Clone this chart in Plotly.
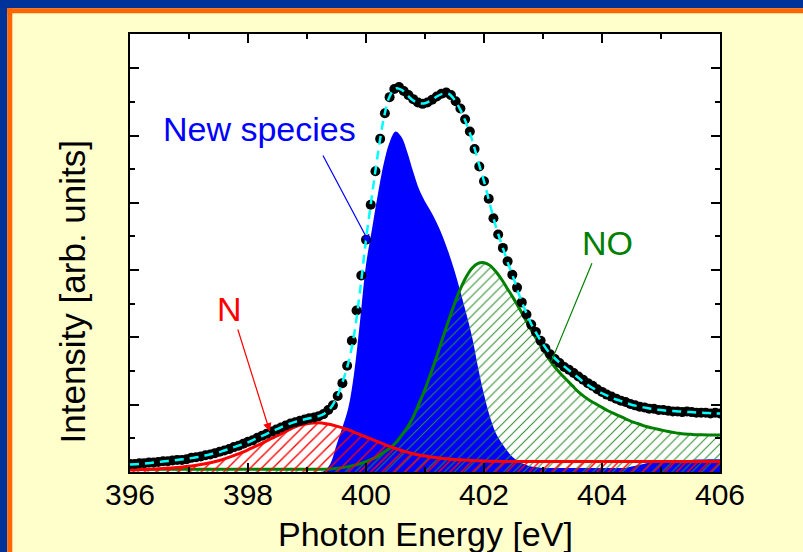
import numpy as np
import plotly.graph_objects as go

# ---------------- data ----------------
# measured spectrum (black dots), 396-406 eV
data_energy = np.round(np.linspace(396.0, 406.0, 126), 3)
data_intensity = [
    0.12, 0.12, 0.13, 0.13, 0.14, 0.14, 0.15, 0.16, 0.16, 0.17,
    0.18, 0.18, 0.19, 0.21, 0.22, 0.23, 0.25, 0.26, 0.28, 0.30,
    0.32, 0.34, 0.37, 0.39, 0.42, 0.45, 0.47, 0.51, 0.54, 0.57,
    0.60, 0.63, 0.66, 0.69, 0.72, 0.74, 0.76, 0.78, 0.80, 0.81,
    0.83, 0.86, 0.92, 0.99, 1.13, 1.32, 1.58, 1.95, 2.40, 2.92,
    3.45, 3.97, 4.47, 4.95, 5.33, 5.57, 5.69, 5.72, 5.66, 5.60,
    5.54, 5.49, 5.47, 5.49, 5.53, 5.58, 5.62, 5.64, 5.60, 5.51,
    5.40, 5.24, 5.06, 4.80, 4.54, 4.32, 4.06, 3.77, 3.53, 3.33,
    3.13, 2.93, 2.74, 2.52, 2.34, 2.19, 2.08, 1.95, 1.84, 1.75,
    1.68, 1.62, 1.56, 1.52, 1.47, 1.42, 1.37, 1.32, 1.28, 1.23,
    1.19, 1.15, 1.12, 1.09, 1.06, 1.04, 1.01, 0.99, 0.97, 0.96,
    0.94, 0.94, 0.92, 0.92, 0.91, 0.90, 0.90, 0.89, 0.90, 0.89,
    0.88, 0.88, 0.88, 0.87, 0.88, 0.87,
]

# fit components on a 0.1 eV grid
comp_energy = np.round(np.linspace(396.0, 406.0, 101), 2)
n_component = [
    0.030, 0.033, 0.036, 0.040, 0.044, 0.049, 0.055, 0.061, 0.068, 0.076,
    0.085, 0.097, 0.111, 0.127, 0.145, 0.168, 0.195, 0.225, 0.258, 0.293,
    0.330, 0.370, 0.410, 0.455, 0.500, 0.540, 0.585, 0.630, 0.670, 0.700,
    0.718, 0.728, 0.730, 0.722, 0.705, 0.682, 0.655, 0.625, 0.590, 0.555,
    0.520, 0.485, 0.450, 0.415, 0.380, 0.350, 0.320, 0.295, 0.272, 0.253,
    0.237, 0.223, 0.212, 0.202, 0.194, 0.187, 0.181, 0.176, 0.171, 0.167,
    0.164, 0.161, 0.159, 0.157, 0.156, 0.155, 0.155, 0.155, 0.155, 0.155,
    0.155, 0.155, 0.155, 0.155, 0.155, 0.155, 0.155, 0.155, 0.155, 0.155,
    0.155, 0.155, 0.155, 0.155, 0.155, 0.155, 0.155, 0.155, 0.155, 0.155,
    0.155, 0.155, 0.155, 0.155, 0.155, 0.155, 0.155, 0.155, 0.155, 0.155,
    0.155,
]
no_component = [
    0.040, 0.040, 0.040, 0.040, 0.040, 0.040, 0.040, 0.040, 0.040, 0.040,
    0.040, 0.040, 0.040, 0.040, 0.040, 0.040, 0.040, 0.040, 0.040, 0.040,
    0.040, 0.040, 0.040, 0.040, 0.040, 0.040, 0.040, 0.040, 0.040, 0.040,
    0.040, 0.040, 0.040, 0.042, 0.046, 0.055, 0.065, 0.080, 0.100, 0.125,
    0.155, 0.190, 0.235, 0.290, 0.350, 0.430, 0.540, 0.660, 0.820, 1.020,
    1.230, 1.470, 1.720, 1.990, 2.250, 2.500, 2.720, 2.900, 3.030, 3.100,
    3.110, 3.070, 2.980, 2.860, 2.720, 2.580, 2.430, 2.270, 2.110, 1.960,
    1.820, 1.680, 1.560, 1.460, 1.370, 1.280, 1.190, 1.120, 1.060, 1.010,
    0.960, 0.910, 0.870, 0.830, 0.790, 0.750, 0.720, 0.690, 0.665, 0.645,
    0.625, 0.605, 0.590, 0.575, 0.565, 0.560, 0.555, 0.552, 0.550, 0.550,
    0.550,
]
new_species = [
    0.00, 0.00, 0.00, 0.00, 0.00, 0.00, 0.00, 0.00, 0.00, 0.00,
    0.00, 0.00, 0.00, 0.00, 0.00, 0.00, 0.00, 0.00, 0.00, 0.00,
    0.00, 0.00, 0.00, 0.00, 0.00, 0.00, 0.00, 0.00, 0.00, 0.00,
    0.00, 0.00, 0.00, 0.02, 0.13, 0.40, 0.66, 0.95, 1.48, 2.25,
    3.08, 3.60, 4.12, 4.58, 4.90, 5.06, 4.98, 4.75, 4.46, 4.20,
    4.02, 3.87, 3.70, 3.50, 3.26, 2.99, 2.68, 2.35, 2.00, 1.55,
    1.15, 0.82, 0.58, 0.43, 0.31, 0.21, 0.15, 0.11, 0.08, 0.07,
    0.06, 0.06, 0.06, 0.06, 0.06, 0.06, 0.06, 0.06, 0.06, 0.06,
    0.06, 0.06, 0.06, 0.06, 0.06, 0.08, 0.10, 0.12, 0.14, 0.15,
    0.16, 0.165, 0.17, 0.175, 0.18, 0.18, 0.185, 0.185, 0.19, 0.19,
    0.19,
]
fit_total = [
    0.110, 0.115, 0.120, 0.130, 0.140, 0.150, 0.160, 0.170, 0.180, 0.190,
    0.200, 0.215, 0.230, 0.250, 0.270, 0.290, 0.320, 0.350, 0.380, 0.410,
    0.440, 0.480, 0.520, 0.560, 0.600, 0.640, 0.680, 0.715, 0.745, 0.770,
    0.790, 0.810, 0.830, 0.870, 0.950, 1.100, 1.330, 1.620, 2.050, 2.700,
    3.450, 4.100, 4.720, 5.250, 5.580, 5.700, 5.680, 5.600, 5.520, 5.480,
    5.480, 5.520, 5.580, 5.620, 5.620, 5.530, 5.380, 5.180, 4.930, 4.620,
    4.320, 3.980, 3.650, 3.380, 3.120, 2.880, 2.620, 2.400, 2.200, 2.040,
    1.900, 1.780, 1.690, 1.610, 1.540, 1.470, 1.400, 1.330, 1.270, 1.220,
    1.170, 1.130, 1.090, 1.060, 1.030, 1.000, 0.980, 0.960, 0.945, 0.930,
    0.920, 0.910, 0.905, 0.900, 0.895, 0.890, 0.885, 0.880, 0.875, 0.870,
    0.870,
]

x_tick_values = [396, 398, 400, 402, 404, 406]
x_tick_labels = ["396", "398", "400", "402", "404", "406"]

# ---------------- figure ----------------
W, H = 803, 552
ML, MR, MT, MB = 130, 83, 34, 80
PW, PH = W - ML - MR, H - MT - MB
FONT = "Liberation Sans, Arial, sans-serif"

def px_x(p):
    return (p - ML) / PW

def px_y(p):
    return (H - MB - p) / PH

fig = go.Figure()

# New species: solid blue
fig.add_trace(go.Scatter(
    x=comp_energy, y=new_species, mode="lines", line=dict(width=0, color="#0000FF", shape="spline"),
    fill="tozeroy", fillcolor="#0000FF", hoverinfo="skip", showlegend=False))

# NO component: green hatched
fig.add_trace(go.Scatter(
    x=comp_energy, y=no_component, mode="lines", line=dict(width=3, color="#008000", shape="spline"),
    fill="tozeroy", fillcolor="rgba(0,0,0,0)",
    fillpattern=dict(shape="/", fgcolor="#2E8B2E", bgcolor="rgba(0,0,0,0)", size=7, solidity=0.15, fillmode="replace"),
    hoverinfo="skip", showlegend=False))

# N component: red hatched
fig.add_trace(go.Scatter(
    x=comp_energy, y=n_component, mode="lines", line=dict(width=3, color="#FF0000", shape="spline"),
    fill="tozeroy", fillcolor="rgba(0,0,0,0)",
    fillpattern=dict(shape="/", fgcolor="#FF0000", bgcolor="rgba(0,0,0,0)", size=8, solidity=0.17, fillmode="replace"),
    hoverinfo="skip", showlegend=False))

# data
fig.add_trace(go.Scatter(
    x=data_energy, y=data_intensity, mode="markers",
    marker=dict(size=10, color="black"), showlegend=False))

# fit
fig.add_trace(go.Scatter(
    x=comp_energy, y=fit_total, mode="lines",
    line=dict(width=2.5, color="#00FFFF", dash="9px,6px", shape="spline"), showlegend=False))

# frame (slide border)
shapes = [
    dict(type="rect", xref="paper", yref="paper", x0=px_x(0), x1=px_x(7.3), y0=px_y(H), y1=px_y(0),
         fillcolor="#003399", line=dict(width=0)),
    dict(type="rect", xref="paper", yref="paper", x0=px_x(0), x1=px_x(W), y0=px_y(8.3), y1=px_y(0),
         fillcolor="#003399", line=dict(width=0)),
    dict(type="rect", xref="paper", yref="paper", x0=px_x(7.3), x1=px_x(12.3), y0=px_y(H), y1=px_y(8.3),
         fillcolor="#FF6600", line=dict(width=0)),
    dict(type="rect", xref="paper", yref="paper", x0=px_x(7.3), x1=px_x(W), y0=px_y(13.3), y1=px_y(8.3),
         fillcolor="#FF6600", line=dict(width=0)),
]

annotations = [
    # labels
    dict(x=398.20, y=5.10, xref="x", yref="y", text="New species", showarrow=False,
         font=dict(family=FONT, size=34, color="#0000FF")),
    dict(x=397.69, y=2.42, xref="x", yref="y", text="N", showarrow=False,
         font=dict(family=FONT, size=34, color="#FF0000")),
    dict(x=404.09, y=3.40, xref="x", yref="y", text="NO", showarrow=False,
         font=dict(family=FONT, size=34, color="#008000")),
    # arrows
    dict(x=400.06, y=3.40, ax=399.257, ay=4.725, xref="x", yref="y", axref="x", ayref="y",
         text="", showarrow=True, arrowhead=2, arrowsize=1.4, arrowwidth=1.2, arrowcolor="#0000FF"),
    dict(x=398.37, y=0.60, ax=397.82, ay=2.14, xref="x", yref="y", axref="x", ayref="y",
         text="", showarrow=True, arrowhead=2, arrowsize=1.4, arrowwidth=1.2, arrowcolor="#FF0000"),
    dict(x=403.14, y=1.64, ax=403.84, ay=3.125, xref="x", yref="y", axref="x", ayref="y",
         text="", showarrow=True, arrowhead=0, arrowwidth=1.2, arrowcolor="#008000"),
    # axis titles
    dict(x=0.5, y=px_y(534), xref="paper", yref="paper", text="Photon Energy [eV]", showarrow=False,
         xanchor="center", yanchor="middle", font=dict(family=FONT, size=34, color="black")),
    dict(x=px_x(72), y=px_y(292.5), xref="paper", yref="paper", text="Intensity [arb. units]",
         showarrow=False, textangle=-90, xanchor="center", yanchor="middle",
         font=dict(family=FONT, size=35, color="black")),
]

fig.update_layout(
    width=W, height=H,
    margin=dict(l=ML, r=MR, t=MT, b=MB, pad=0),
    paper_bgcolor="#FFFFCC", plot_bgcolor="white",
    font=dict(family=FONT, color="black"),
    shapes=shapes, annotations=annotations,
    showlegend=False,
)
fig.update_xaxes(
    range=[396, 406], tickvals=x_tick_values, ticktext=x_tick_labels,
    ticks="inside", ticklen=9, tickwidth=1.5, tickcolor="black",
    minor=dict(dtick=1, ticks="inside", ticklen=5, tickwidth=1.5, tickcolor="black"),
    showline=True, linecolor="black", linewidth=2, mirror="ticks",
    showgrid=False, zeroline=False, tickfont=dict(family=FONT, size=30, color="black"),
    ticklabelstandoff=-5,
)
fig.update_yaxes(
    range=[0, PH / 67.3], dtick=1, tick0=0, showticklabels=False,
    ticks="inside", ticklen=9, tickwidth=1.5, tickcolor="black",
    minor=dict(dtick=0.5, ticks="inside", ticklen=5, tickwidth=1.5, tickcolor="black"),
    showline=True, linecolor="black", linewidth=2, mirror="ticks",
    showgrid=False, zeroline=False,
)

fig.write_html("out.html")
